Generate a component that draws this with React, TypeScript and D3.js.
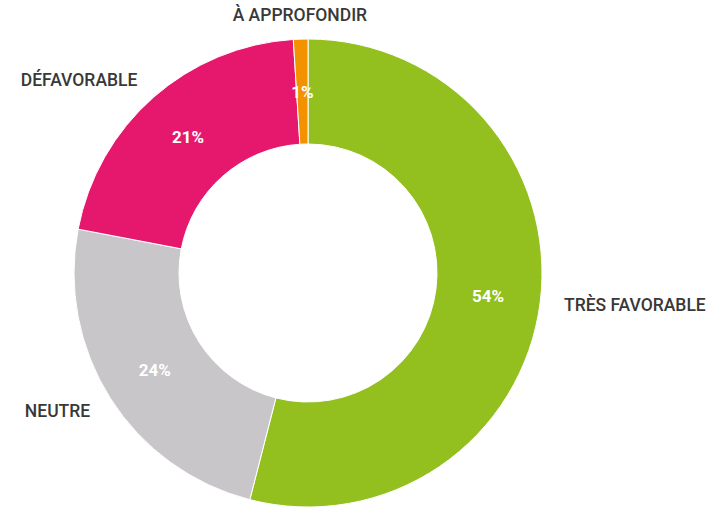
import { useEffect, useRef } from "react";
import * as d3 from "d3";

// Categories, values (%) and colours, clockwise from 12 o'clock
const categories = ["TRÈS FAVORABLE", "NEUTRE", "DÉFAVORABLE", "À APPROFONDIR"];
const values = [54, 24, 21, 1];
const colors = ["#93c01f", "#c8c6c9", "#e5186e", "#f39200"];

const width = 713;
const height = 511;

/* Draws the donut chart */
function DonutChart() {
    const svgRef = useRef<SVGSVGElement>(null);

    useEffect(() => {
        const cx = 308;
        const cy = 273;
        const outer = 234;
        const inner = 129;
        const labelR = 258;

        const data = categories.map((name, i) => ({ name, value: values[i], color: colors[i] }));

        const pie = d3.pie<any>().sort(null).value(d => d.value);
        const arcs = pie(data);

        const arc = d3.arc<any>().innerRadius(inner).outerRadius(outer);
        const labelArc = d3.arc<any>().innerRadius(labelR).outerRadius(labelR);

        const svg = d3.select(svgRef.current)
            .attr("width", width)
            .attr("height", height);

        svg.selectAll("*").remove();

        const g = svg.append("g").attr("transform", `translate(${cx}, ${cy})`);

        // slices
        g.selectAll(".slice")
            .data(arcs)
            .enter()
            .append("path")
            .attr("class", "slice")
            .attr("d", arc)
            .attr("fill", d => d.data.color)
            .attr("stroke", "#fff")
            .attr("stroke-width", 1);

        // percentages inside the ring
        g.selectAll(".pct")
            .data(arcs)
            .enter()
            .append("text")
            .attr("class", "pct")
            .attr("transform", d => `translate(${arc.centroid(d)})`)
            .attr("text-anchor", "middle")
            .attr("dy", "0.35em")
            .attr("fill", "#fff")
            .style("font-family", "Roboto, sans-serif")
            .style("font-weight", 700)
            .style("font-size", "17px")
            .text(d => `${d.data.value}%`);

        // category labels outside
        g.selectAll(".lbl")
            .data(arcs)
            .enter()
            .append("text")
            .attr("class", "lbl")
            .attr("transform", d => `translate(${labelArc.centroid(d)})`)
            .attr("text-anchor", d => {
                const x = labelArc.centroid(d)[0];
                if (Math.abs(x) < 30) return "middle";
                return x > 0 ? "start" : "end";
            })
            .attr("dy", "0.35em")
            .attr("fill", "#383838")
            .style("font-family", "Roboto, sans-serif")
            .style("font-weight", 500)
            .style("font-size", "17.5px")
            .text(d => d.data.name);
    }, []);

    return <svg ref={svgRef} style={{ position: "absolute", left: 0, top: 0 }}></svg>;
}

export default function App() {
    return <DonutChart />;
}
